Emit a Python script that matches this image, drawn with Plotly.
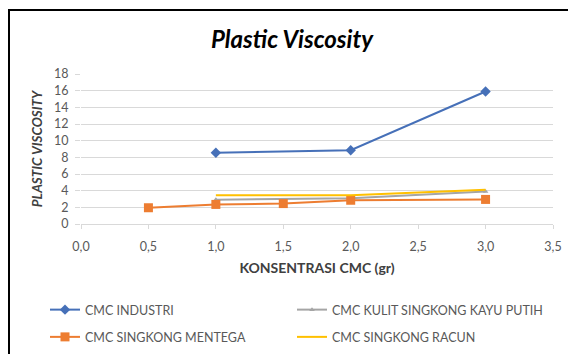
import plotly.graph_objects as go

x_industri = [1.0, 2.0, 3.0]
y_industri = [8.55, 8.85, 15.9]
x_kulit = [1.0, 2.0, 3.0]
y_kulit = [2.9, 3.1, 3.9]
x_mentega = [0.5, 1.0, 1.5, 2.0, 3.0]
y_mentega = [1.95, 2.35, 2.45, 2.85, 2.95]
x_racun = [1.0, 2.0, 3.0]
y_racun = [3.45, 3.45, 4.1]

x_ticks = [0, 0.5, 1.0, 1.5, 2.0, 2.5, 3.0, 3.5]
y_ticks = [0, 2, 4, 6, 8, 10, 12, 14, 16, 18]

FONT = "Lato"
W, H = 568, 346
L, R, T, B = 73, 23, 66, 130
pw, ph = W - L - R, H - T - B

def px_x(px):
    return (px - L) / pw

def px_y(py):
    return (H - B - py) / ph

fig = go.Figure()
fig.add_trace(go.Scatter(x=x_industri, y=y_industri, name="CMC INDUSTRI", mode="lines+markers",
                         legend="legend", legendgroup="a",
                         line=dict(color="#4670B8", width=2),
                         marker=dict(symbol="diamond", size=8, color="#4670B8")))
fig.add_trace(go.Scatter(x=x_kulit, y=y_kulit, name="CMC KULIT SINGKONG KAYU PUTIH", mode="lines+markers",
                         legend="legend2", legendgroup="b",
                         line=dict(color="#A5A5A5", width=2),
                         marker=dict(symbol="triangle-up", size=5, color="#A5A5A5")))
fig.add_trace(go.Scatter(x=x_mentega, y=y_mentega, name="CMC SINGKONG MENTEGA", mode="lines+markers",
                         legend="legend", legendgroup="c",
                         line=dict(color="#ED7D31", width=2),
                         marker=dict(symbol="square", size=9, color="#ED7D31")))
fig.add_trace(go.Scatter(x=x_racun, y=y_racun, name="CMC SINGKONG RACUN", mode="lines",
                         legend="legend2", legendgroup="d",
                         line=dict(color="#FFC000", width=2)))

legend_font = dict(family=FONT, size=12.5, color="#595959")

fig.update_layout(
    width=W, height=H,
    margin=dict(l=L, r=R, t=T, b=B, autoexpand=False),
    paper_bgcolor="white", plot_bgcolor="white",
    separators=",.",
    font=dict(family=FONT, color="#595959", size=12),
    title=dict(text="<b><i>Plastic Viscosity</i></b>", x=0.5, xref="container", xanchor="center",
               y=1 - 32 / H, yanchor="middle", font=dict(family=FONT, size=24, color="#000000")),
    xaxis=dict(range=[0, 3.5], tickvals=x_ticks, tickformat=".1f", showgrid=False, zeroline=False,
               showline=True, linecolor="#D9D9D9", linewidth=1, ticks="outside", ticklen=4,
               tickcolor="#D9D9D9", tickfont=dict(size=12.5, color="#595959"),
               ticklabelstandoff=7,
               title=dict(text="<b>KONSENTRASI CMC (gr)</b>", standoff=10,
                          font=dict(family=FONT, size=14, color="#404040"))),
    yaxis=dict(range=[0, 18], tickvals=y_ticks, showgrid=True, gridcolor="#D9D9D9", gridwidth=1,
               zeroline=False, showline=False, ticks="outside", ticklen=5, tickcolor="#D9D9D9",
               tickfont=dict(size=12.5, color="#595959"), ticklabelstandoff=4,
               title=dict(text="<b><i>PLASTIC VISCOSITY</i></b>", standoff=8,
                          font=dict(family=FONT, size=13.5, color="#404040"))),
    legend=dict(orientation="v", x=px_x(37), xanchor="left", y=px_y(287), yanchor="top",
                traceorder="grouped", tracegroupgap=8, itemwidth=30,
                font=legend_font, bgcolor="rgba(0,0,0,0)"),
    legend2=dict(orientation="v", x=px_x(284), xanchor="left", y=px_y(287), yanchor="top",
                 traceorder="grouped", tracegroupgap=8, itemwidth=30,
                 font=legend_font, bgcolor="rgba(0,0,0,0)"),
    showlegend=True,
)

fig.add_shape(type="rect", xref="paper", yref="paper",
              x0=px_x(1), x1=px_x(620), y0=px_y(400), y1=px_y(2),
              line=dict(color="#000000", width=2), fillcolor="rgba(0,0,0,0)", layer="above")

fig.write_html("out.html")
